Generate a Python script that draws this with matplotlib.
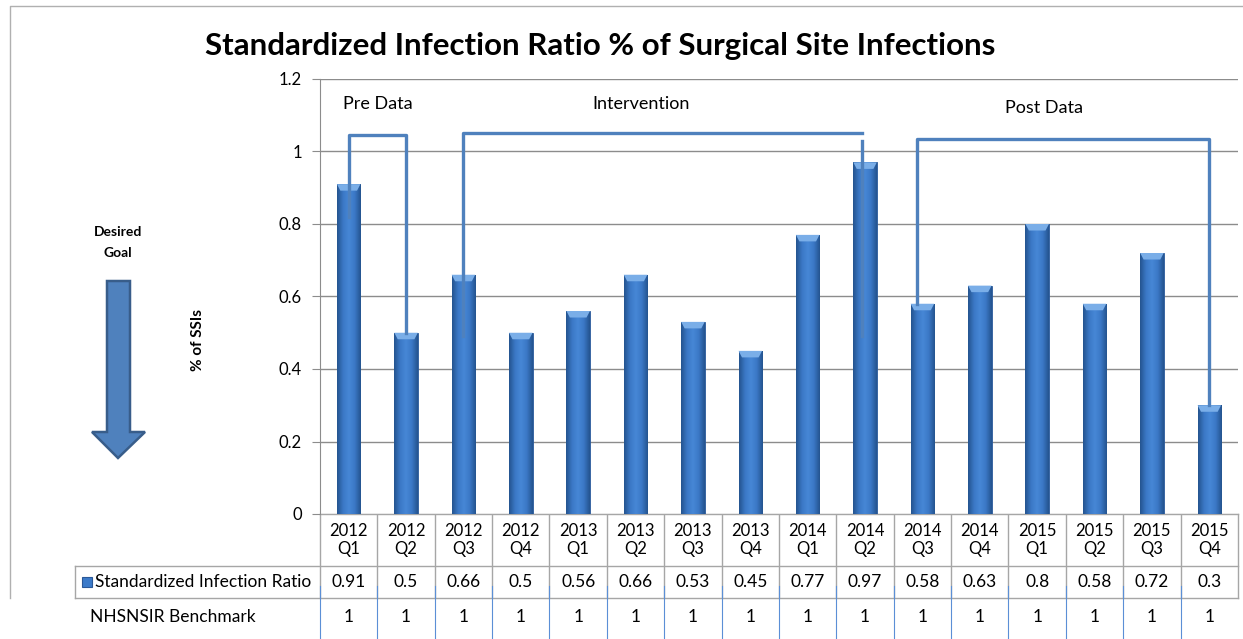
import matplotlib
matplotlib.use("Agg")
import matplotlib.pyplot as plt
import numpy as np
from matplotlib.patches import Polygon, Rectangle
from matplotlib.colors import LinearSegmentedColormap

plt.rcParams['font.family'] = ['Lato', 'DejaVu Sans']

years = ["2012", "2012", "2012", "2012", "2013", "2013", "2013", "2013",
         "2014", "2014", "2014", "2014", "2015", "2015", "2015", "2015"]
quarters = ["Q1", "Q2", "Q3", "Q4"] * 4
sir = [0.91, 0.5, 0.66, 0.5, 0.56, 0.66, 0.53, 0.45,
       0.77, 0.97, 0.58, 0.63, 0.8, 0.58, 0.72, 0.3]
sir_labels = ["0.91", "0.5", "0.66", "0.5", "0.56", "0.66", "0.53", "0.45",
              "0.77", "0.97", "0.58", "0.63", "0.8", "0.58", "0.72", "0.3"]
benchmark = ["1"] * 16

W, H = 1243, 639
fig = plt.figure(figsize=(W / 100, H / 100), dpi=100)

# overlay in pixel coords for the frame, arrow and data table
ov = fig.add_axes([0, 0, 1, 1])
ov.set_xlim(0, W)
ov.set_ylim(H, 0)
ov.axis("off")

# main plot area
x0, x1, y0, y1 = 320, 1238, 514, 79
ax = fig.add_axes([x0 / W, 1 - y0 / H, (x1 - x0) / W, (y0 - y1) / H])
n = len(sir)
xs = [i + 0.5 for i in range(n)]
bw = 0.41
bars = ax.bar(xs, sir, width=bw, color="#3b7ac9", edgecolor="#2a5898", linewidth=0.6, zorder=3)

# shaded look of the bars
cmap = LinearSegmentedColormap.from_list("bar", ["#24548f", "#3b78c6", "#4787d6", "#3b78c6", "#24548f"])
grad = np.linspace(0, 1, 64).reshape(1, -1)
for b, x, v in zip(bars, xs, sir):
    im = ax.imshow(grad, extent=[x - bw / 2, x + bw / 2, 0, v], aspect="auto",
                   cmap=cmap, zorder=3.1, interpolation="bilinear")
    im.set_clip_path(b)
    cap = Polygon([(x - bw / 2, v), (x + bw / 2, v), (x + bw / 2 - 0.06, v - 0.018),
                   (x - bw / 2 + 0.06, v - 0.018)], closed=True,
                  facecolor="#7aaee8", edgecolor="none", zorder=3.2)
    ax.add_patch(cap)

ax.set_xlim(0, n)
ax.set_ylim(0, 1.2)
ax.set_yticks([0, 0.2, 0.4, 0.6, 0.8, 1, 1.2])
ax.set_yticklabels(["0", "0.2", "0.4", "0.6", "0.8", "1", "1.2"], fontsize=12)
ax.set_xticks([])
ax.grid(axis="y", color="#8c8c8c", linewidth=1, zorder=0)
for s in ["top", "right", "bottom"]:
    ax.spines[s].set_visible(False)
ax.spines["left"].set_color("#8c8c8c")
ax.tick_params(axis="y", length=6, color="#8c8c8c", pad=7)

# phase brackets
bc = "#4f81bd"
lw = 2.4
ax.plot([0.5, 0.5, 1.5, 1.5], [0.82, 1.045, 1.045, 0.5], color=bc, lw=lw, zorder=4, clip_on=False)
ax.plot([2.5, 2.5, 9.45], [0.49, 1.05, 1.05], color=bc, lw=lw, zorder=4, clip_on=False)
ax.plot([9.45, 9.45], [1.03, 0.49], color=bc, lw=lw, zorder=4, clip_on=False)
ax.plot([10.4, 10.4, 15.5, 15.5], [0.58, 1.035, 1.035, 0.3], color=bc, lw=lw, zorder=4, clip_on=False)
ax.text(1.0, 1.13, "Pre Data", ha="center", va="center", fontsize=13)
ax.text(5.6, 1.13, "Intervention", ha="center", va="center", fontsize=13)
ax.text(12.62, 1.12, "Post Data", ha="center", va="center", fontsize=13)

fig.text(600 / W, 1 - 46 / H, "Standardized Infection Ratio % of Surgical Site Infections",
         ha="center", va="center", fontsize=22.5, fontweight="bold")
fig.text(198 / W, 1 - 340 / H, "% of SSIs", rotation=90, ha="center", va="center",
         fontsize=11, fontweight="bold")

# chart frame
ov.plot([10, 10, W], [598, 6, 6], color="#b0b0b0", lw=1)

# desired goal arrow
ov.text(118, 232, "Desired", ha="center", va="center", fontsize=10, fontweight="bold")
ov.text(118, 253, "Goal", ha="center", va="center", fontsize=10, fontweight="bold")
arrow = Polygon([(107, 281), (130, 281), (130, 432), (145, 432), (118, 458), (92, 432), (107, 432)],
                closed=True, facecolor="#4f81bd", edgecolor="#385d8a", lw=1.8)
ov.add_patch(arrow)

# data table
colw = (x1 - x0) / n
gc = "#a6a6a6"
ov.plot([x0, x1], [y0, y0], color=gc, lw=1)
ov.plot([75, x1], [566, 566], color=gc, lw=1)
ov.plot([75, x1], [598, 598], color=gc, lw=1)
ov.plot([75, 75], [566, 598], color=gc, lw=1)
ov.plot([x1, x1], [y0, 598], color=gc, lw=1)
for k in range(n):
    bx = x0 + k * colw
    ov.plot([bx, bx], [y0, 598], color=gc, lw=1)
    ov.plot([bx, bx], [586, H], color="#5b8fd6", lw=0.8)
for i in range(n):
    cx = x0 + (i + 0.5) * colw
    ov.text(cx, 540, years[i] + "\n" + quarters[i], ha="center", va="center",
            fontsize=12, linespacing=1.1)
    ov.text(cx, 582, sir_labels[i], ha="center", va="center", fontsize=12.5)
    ov.text(cx, 617, benchmark[i], ha="center", va="center", fontsize=12.5)
ov.add_patch(Rectangle((82, 577), 10, 10, facecolor="#3b7ac9", edgecolor="#2a5898", lw=0.8))
ov.text(95, 582, "Standardized Infection Ratio", ha="left", va="center", fontsize=12.5)
ov.text(90, 617, "NHSNSIR Benchmark", ha="left", va="center", fontsize=12.5)

fig.savefig("out.png", dpi=100)
